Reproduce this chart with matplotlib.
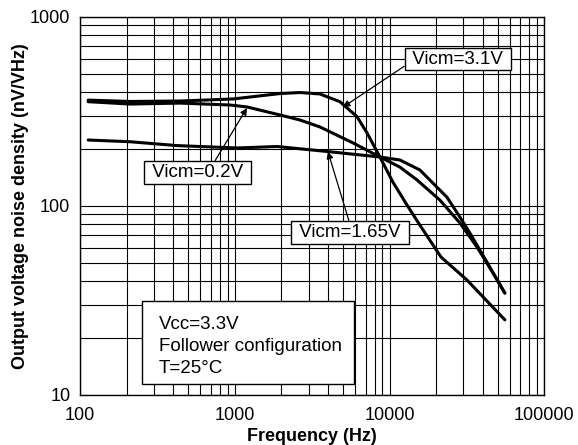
import matplotlib
matplotlib.use("Agg")
import matplotlib.pyplot as plt
from matplotlib.patches import Rectangle
from matplotlib.ticker import LogLocator, NullFormatter, FixedLocator, FixedFormatter

plt.rcParams['font.family'] = ['Liberation Sans', 'DejaVu Sans']

# curve data (Hz, nV/rtHz)
freq_31 = [113, 210, 443, 973, 1960, 2640, 3550, 4780, 6160, 7150, 8670,
           10500, 12950, 15700, 21500, 31600, 55600]
noise_31 = [362, 356, 358, 367, 392, 397, 390, 355, 296, 243, 181,
            133.5, 101, 79, 53.5, 40.5, 24.9]

freq_02 = [113, 210, 443, 931, 1200, 1960, 2640, 3550, 5800, 8670, 11670,
           15030, 21170, 28500, 36700, 44560, 55600]
noise_02 = [355, 345, 349, 341, 333, 302, 284, 261, 215, 181, 160,
            137, 107, 81, 60.5, 46.8, 34.5]

freq_165 = [113, 210, 423, 1033, 1874, 3942, 8670, 11670, 15710, 19060,
            23480, 28490, 33060, 42590, 55600]
noise_165 = [222.6, 218, 208, 202, 205.7, 193.6, 181, 174.5, 154.5, 131.7,
             111, 87.1, 71.6, 50.3, 34.5]

x_ticks = [100, 1000, 10000, 100000]
x_labels = ['100', '1000', '10000', '100000']
y_ticks = [10, 100, 1000]
y_labels = ['10', '100', '1000']

conditions = "Vcc=3.3V\nFollower configuration\nT=25°C"

fig = plt.figure(figsize=(5.78, 4.45), dpi=100)
ax = fig.add_axes([0.1384, 0.113, 0.8033, 0.8495])

ax.set_xscale('log')
ax.set_yscale('log')
ax.set_xlim(100, 100000)
ax.set_ylim(10, 1000)

ax.xaxis.set_major_locator(FixedLocator(x_ticks))
ax.xaxis.set_major_formatter(FixedFormatter(x_labels))
ax.yaxis.set_major_locator(FixedLocator(y_ticks))
ax.yaxis.set_major_formatter(FixedFormatter(y_labels))
ax.xaxis.set_minor_locator(LogLocator(base=10, subs=range(2, 10)))
ax.yaxis.set_minor_locator(LogLocator(base=10, subs=range(2, 10)))
ax.xaxis.set_minor_formatter(NullFormatter())
ax.yaxis.set_minor_formatter(NullFormatter())
ax.tick_params(which='both', length=0, labelsize=13)
ax.tick_params(axis='x', pad=9)
ax.tick_params(axis='y', pad=7)
ax.grid(True, which='both', color='black', lw=0.8)
ax.set_axisbelow(True)
for s in ax.spines.values():
    s.set_linewidth(1.0)

for f, v in [(freq_31, noise_31), (freq_02, noise_02), (freq_165, noise_165)]:
    ax.plot(f, v, color='black', lw=2.2, solid_capstyle='round')

ax.set_xlabel('Frequency (Hz)', fontsize=13, fontweight='bold', labelpad=3)
ax.set_ylabel('Output voltage noise density (nV/VHz)', fontsize=13,
              fontweight='bold', labelpad=1)

box = dict(boxstyle='square,pad=0.15', fc='white', ec='black', lw=1)
arrow = dict(arrowstyle='-|>', color='black', lw=0.9, mutation_scale=10,
             shrinkA=0, shrinkB=0)

ax.annotate(' Vicm=3.1V ', xy=(5000, 332), xytext=(27670, 597),
            ha='center', va='center', fontsize=13.5, bbox=box,
            arrowprops=dict(arrow, relpos=(0, 0.2)))
ax.annotate(' Vicm=0.2V ', xy=(1199, 329), xytext=(578, 150),
            ha='center', va='center', fontsize=13.5, bbox=box,
            arrowprops=dict(arrow, relpos=(0.65, 1)))
ax.annotate(' Vicm=1.65V ', xy=(4000, 193), xytext=(5547, 72.1),
            ha='center', va='center', fontsize=13.5, bbox=box,
            arrowprops=dict(arrow, relpos=(0.5, 1)))

ax.add_patch(Rectangle((0.1325, 0.0291), 0.4587, 0.2175, transform=ax.transAxes,
                       fc='white', ec='black', lw=1, zorder=5))
ax.text(0.170, 0.127, conditions, transform=ax.transAxes, ha='left',
        va='center', fontsize=13.5, linespacing=1.37, zorder=6)

fig.savefig('out.png', dpi=100)
